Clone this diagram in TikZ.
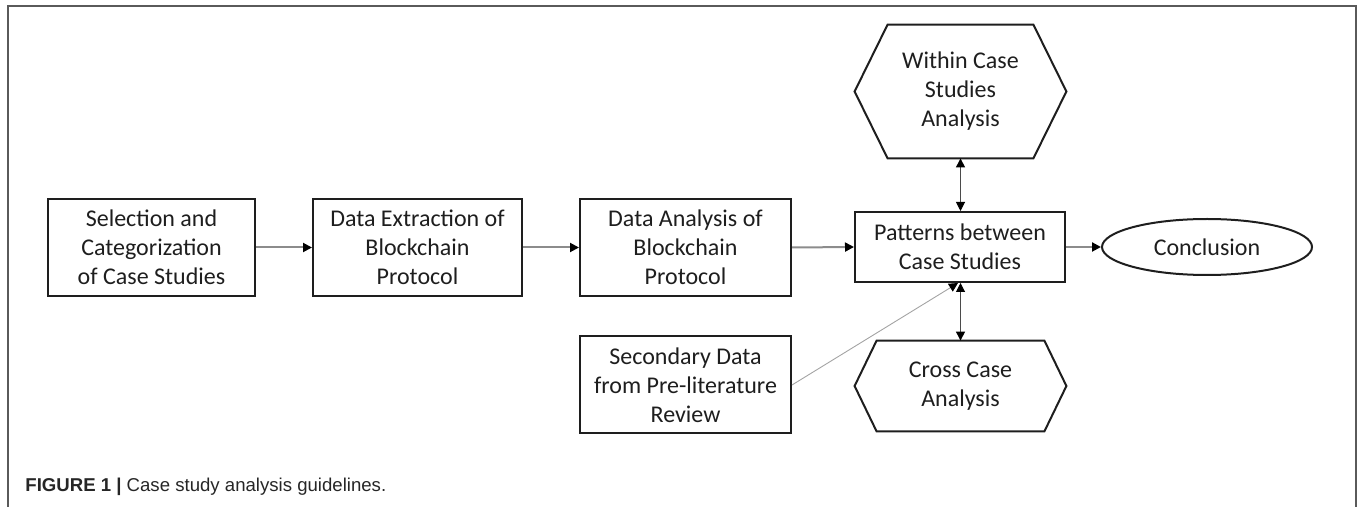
\documentclass[tikz,border=0pt]{standalone}
\usepackage{fontspec}
\setmainfont{Carlito}
\newfontfamily\capfont{Liberation Sans}
\usetikzlibrary{arrows.meta,shapes.geometric}
\definecolor{ink}{HTML}{1E1E1E}
\definecolor{flow}{HTML}{8C8C8C}
\definecolor{frame}{HTML}{5A5A5A}
\tikzset{
  lbl/.style={text=ink,font=\fontsize{12pt}{14.5pt}\selectfont},
  box/.style={draw=ink,line width=1pt,rectangle,minimum width=#1,minimum height=48.5pt,
    align=center,lbl,inner sep=0pt},
  box/.default=104pt,
  plain/.style={rectangle,minimum width=105.5pt,align=center,lbl,inner sep=0pt},
  hexline/.style={draw=ink,line width=1pt,line join=miter},
  tip/.style={-{Triangle[length=4.5pt,width=4.5pt,color=black]}},
  flowarrow/.style={tip,draw=flow,line width=1pt},
  link/.style={{Triangle[length=4.5pt,width=4.5pt,color=black]}-{Triangle[length=4.5pt,width=4.5pt,color=black]},draw=ink!80,line width=0.5pt},
}
\begin{document}
\begin{tikzpicture}[x=0.5pt,y=-0.5pt]
  \useasboundingbox (0,0) rectangle (1360,507);
  % page frame (open at the bottom)
  \draw[frame,line width=1pt] (8,507) -- (8,6.5) -- (1355.5,6.5) -- (1355.5,507);

  % main row of steps
  \node[box=103.5pt] (sel) at (151.5,247.5) {Selection and\\Categorization\\of Case Studies};
  \node[box=104.5pt] (ext) at (417.5,247.5) {Data Extraction of\\Blockchain\\Protocol};
  \node[box=105.5pt] (ana) at (685.5,247.5) {Data Analysis of\\Blockchain\\Protocol};
  \node[box=105pt,minimum height=35pt] (pat) at (960,247) {Patterns between\\Case Studies};
  \node[draw=ink,line width=1pt,ellipse,minimum width=105pt,minimum height=28pt,inner sep=0pt,
        lbl] (con) at (1207,247) {Conclusion};

  % secondary input
  \node[box=105.5pt] (sec) at (685.5,385) {Secondary Data\\from Pre-literature\\Review};

  % hexagonal analysis nodes
  \node[plain,minimum height=66.5pt] (win) at (960.5,91.5) {Within Case\\Studies\\Analysis};
  \draw[hexline] (win.west) -- ([xshift=16.5pt]win.north west) -- ([xshift=-16.5pt]win.north east)
     -- (win.east) -- ([xshift=-16.5pt]win.south east) -- ([xshift=16.5pt]win.south west) -- cycle;
  \node[plain,minimum height=45pt] (cro) at (960.5,386) {Cross Case\\Analysis};
  \draw[hexline] (cro.west) -- ([xshift=11pt]cro.north west) -- ([xshift=-11pt]cro.north east)
     -- (cro.east) -- ([xshift=-11pt]cro.south east) -- ([xshift=11pt]cro.south west) -- cycle;

  % connectors
  \draw[flowarrow] (sel.east) -- (ext.west);
  \draw[flowarrow] (ext.east) -- (ana.west);
  \draw[flowarrow] (ana.east) -- (pat.west);
  \draw[flowarrow] (pat.east) -- (con.west);
  \draw[link] (win.south) -- (win.south |- pat.north);
  \draw[link] (win.south |- pat.south) -- (cro.north);
  \draw[tip,draw=flow!80,line width=0.45pt] (sec.east) -- ([xshift=-1pt]pat.south);

  % caption
  \node[anchor=base west,inner sep=0pt,text=black!85,font=\capfont\fontsize{9.3pt}{11pt}\selectfont]
    (cap) at (25,492) {\textbf{FIGURE 1 |} Case study analysis guidelines.};
\end{tikzpicture}
\end{document}
